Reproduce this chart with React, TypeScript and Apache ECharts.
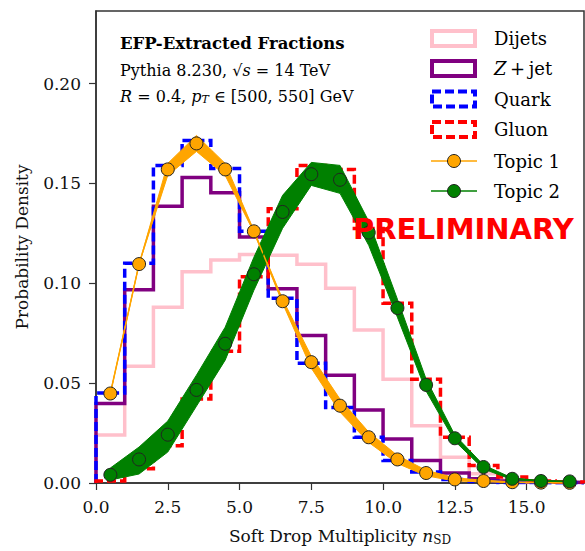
import React, { useEffect, useRef } from "react";
import * as echarts from "echarts";

// ---- data ----
const binEdges = [0, 1, 2, 3, 4, 5, 6, 7, 8, 9, 10, 11, 12, 13, 14, 15, 16, 17];
const binCenters = [0.5, 1.5, 2.5, 3.5, 4.5, 5.5, 6.5, 7.5, 8.5, 9.5, 10.5, 11.5, 12.5, 13.5, 14.5, 15.5, 16.5];

const dijets = [0.024, 0.0585, 0.088, 0.1058, 0.1116, 0.1144, 0.114, 0.1095, 0.0975, 0.0766, 0.0519, 0.0287, 0.0129, 0.0046, 0.0015, 0.0005, 0.0002];
const zjet = [0.0398, 0.0967, 0.1386, 0.153, 0.1453, 0.1232, 0.0972, 0.0738, 0.054, 0.0365, 0.022, 0.0113, 0.005, 0.0021, 0.001, 0.0006, 0.0003];
const quark = [0.045, 0.11, 0.159, 0.1715, 0.1575, 0.126, 0.0925, 0.06, 0.0378, 0.0229, 0.0113, 0.0055, 0.0017, 0.0008, 0.0003, 0.0001, 0.0001];
const gluon = [0.001, 0.0071, 0.0187, 0.042, 0.066, 0.1033, 0.1373, 0.1589, 0.157, 0.1274, 0.09, 0.0519, 0.0229, 0.0088, 0.003, 0.001, 0.0005];

const topic1 = [0.0448, 0.1096, 0.157, 0.17, 0.157, 0.126, 0.091, 0.0605, 0.0387, 0.0229, 0.0118, 0.005, 0.0018, 0.001, 0.0004, 0.0002, 0.0001];
const topic1Hi = [0.0448, 0.1096, 0.16, 0.174, 0.16, 0.1265, 0.092, 0.0635, 0.042, 0.0255, 0.0138, 0.0064, 0.0026, 0.0014, 0.0006, 0.0003, 0.0002];
const topic1Lo = [0.0448, 0.1096, 0.154, 0.166, 0.154, 0.1255, 0.09, 0.0575, 0.0355, 0.0203, 0.0098, 0.0036, 0.001, 0.0006, 0.0002, 0.0001, 0.0];

const topic2 = [0.0041, 0.0118, 0.0242, 0.0466, 0.0697, 0.1045, 0.1357, 0.1546, 0.1518, 0.1254, 0.0876, 0.0491, 0.0224, 0.008, 0.0021, 0.001, 0.0008];
const topic2Hi = [0.0075, 0.018, 0.031, 0.054, 0.078, 0.113, 0.144, 0.1605, 0.159, 0.131, 0.092, 0.052, 0.024, 0.009, 0.0025, 0.0012, 0.0009];
const topic2Lo = [0.0015, 0.0045, 0.0155, 0.0385, 0.0615, 0.0965, 0.1275, 0.149, 0.145, 0.119, 0.083, 0.046, 0.021, 0.007, 0.0017, 0.0008, 0.0007];

const xTicks = [0, 2.5, 5, 7.5, 10, 12.5, 15];
const yTicks = [0, 0.05, 0.1, 0.15, 0.2];

const SERIF = "DejaVu Serif";

function stepPoints(vals: number[]) {
  const pts: number[][] = [[binEdges[0], 0]];
  vals.forEach((v, i) => {
    pts.push([binEdges[i], v]);
    pts.push([binEdges[i + 1], v]);
  });
  pts.push([binEdges[binEdges.length - 1], 0]);
  return pts;
}

function band(lo: number[], hi: number[], color: string, z: number) {
  return {
    type: "custom",
    z,
    silent: true,
    data: [[0, 0]],
    renderItem: (_p: any, api: any) => {
      const top = binCenters.map((x, i) => api.coord([x, hi[i]]));
      const bot = binCenters.map((x, i) => api.coord([x, lo[i]])).reverse();
      return {
        type: "polygon",
        shape: { points: top.concat(bot) },
        style: { fill: color, stroke: color, lineWidth: 1 },
      };
    },
  };
}

function hist(name: string, vals: number[], color: string, dashed: boolean) {
  return {
    name,
    type: "line",
    z: 2,
    symbol: "none",
    silent: true,
    data: stepPoints(vals),
    lineStyle: { color, width: 3.5, type: dashed ? [9, 4] : "solid", join: "miter", cap: "butt" },
  };
}

function topic(name: string, vals: number[], color: string) {
  return {
    name,
    type: "line",
    z: 5,
    symbol: "circle",
    symbolSize: 13,
    data: binCenters.map((x, i) => [x, vals[i]]),
    lineStyle: { color, width: 1.5 },
    itemStyle: { color, borderColor: "#222", borderWidth: 1 },
  };
}

const legendItems = [
  { label: "Dijets", color: "pink", kind: "rect", dash: false, y: 38.5 },
  { label: "Z+jet", color: "purple", kind: "rect", dash: false, y: 68.5 },
  { label: "Quark", color: "blue", kind: "rect", dash: true, y: 99 },
  { label: "Gluon", color: "red", kind: "rect", dash: true, y: 129.5 },
  { label: "Topic 1", color: "orange", kind: "line", dash: false, y: 161 },
  { label: "Topic 2", color: "green", kind: "line", dash: false, y: 191 },
];

function font(size: number, opts: string = "") {
  return `${opts} ${size}px "${SERIF}"`.trim();
}

function txt(size: number, extra: any = {}) {
  return {
    font: font(size, [extra.fontStyle, extra.fontWeight].filter(Boolean).join(" ")),
    fontFamily: SERIF,
    fontSize: size,
    fill: "#000",
    ...extra,
  };
}

function legendGraphics() {
  const els: any[] = [];
  legendItems.forEach((it) => {
    if (it.kind === "rect") {
      els.push({
        type: "rect",
        z: 20,
        shape: { x: 432, y: it.y - 7.5, width: 43, height: 15 },
        style: { fill: "#fff", stroke: it.color, lineWidth: 4, lineDash: it.dash ? [9, 4] : null },
      });
    } else {
      els.push({
        type: "line",
        z: 20,
        shape: { x1: 431, y1: it.y, x2: 477, y2: it.y },
        style: { stroke: it.color, lineWidth: 1.5 },
      });
      els.push({
        type: "circle",
        z: 21,
        shape: { cx: 454, cy: it.y, r: 6.5 },
        style: { fill: it.color, stroke: "#222", lineWidth: 1 },
      });
    }
    const isZ = it.label === "Z+jet";
    els.push({
      type: "text",
      x: 494,
      y: it.y,
      z: 20,
      style: isZ
        ? {
            ...txt(18),
            text: "{i|Z}{r|\u2009+\u2009jet}",
            verticalAlign: "middle",
            rich: {
              i: txt(18, { fontStyle: "italic" }),
              r: txt(18),
            },
          }
        : { ...txt(18), text: it.label, verticalAlign: "middle" },
    });
  });
  return els;
}

export default function App() {
  const ref = useRef<HTMLDivElement>(null);
  useEffect(() => {
    if (!ref.current) return;
    const chart = echarts.init(ref.current, null, { renderer: "svg" });
    const option: any = {
      animation: false,
      backgroundColor: "#fff",
      grid: { left: 96, right: 1, top: 11, bottom: 65, show: true, borderColor: "#333", borderWidth: 1.5, backgroundColor: "transparent" },
      xAxis: {
        type: "value",
        min: 0,
        max: 17,
        splitLine: { show: false },
        axisLine: { show: true, onZero: false, lineStyle: { color: "#333", width: 1.5 } },
        axisTick: { show: true, length: 7, customValues: xTicks, lineStyle: { color: "#333", width: 1.2 } },
        axisLabel: {
          customValues: xTicks,
          formatter: (v: number) => v.toFixed(1),
          fontFamily: SERIF,
          fontSize: 17,
          color: "#111",
          margin: 15,
        },
        name: "{r|Soft Drop Multiplicity }{i|n}{s|SD}",
        nameLocation: "middle",
        nameGap: 43,
        nameTextStyle: {
          rich: {
            r: { fontFamily: SERIF, fontSize: 17, color: "#111" },
            i: { fontFamily: SERIF, fontSize: 17, fontStyle: "italic", color: "#111" },
            s: { fontFamily: SERIF, fontSize: 12, color: "#111", padding: [8, 0, 0, 0] },
          },
        },
      },
      yAxis: {
        type: "value",
        min: 0,
        max: 0.2363,
        splitLine: { show: false },
        axisLine: { show: true, lineStyle: { color: "#333", width: 1.5 } },
        axisTick: { show: true, length: 7, customValues: yTicks, lineStyle: { color: "#333", width: 1.2 } },
        axisLabel: {
          customValues: yTicks,
          formatter: (v: number) => v.toFixed(2),
          fontFamily: SERIF,
          fontSize: 17,
          color: "#111",
          margin: 15,
        },
        name: "Probability Density",
        nameLocation: "middle",
        nameRotate: 90,
        nameGap: 66,
        nameTextStyle: { fontFamily: SERIF, fontSize: 17, color: "#111" },
      },
      series: [
        hist("Dijets", dijets, "pink", false),
        hist("Z+jet", zjet, "purple", false),
        hist("Quark", quark, "blue", true),
        hist("Gluon", gluon, "red", true),
        band(topic1Lo, topic1Hi, "orange", 3),
        band(topic2Lo, topic2Hi, "green", 3),
        topic("Topic 1", topic1, "orange"),
        topic("Topic 2", topic2, "green"),
      ],
      graphic: [
        {
          type: "text",
          x: 120,
          y: 43,
          z: 20,
          style: { ...txt(16.5, { fontWeight: "bold" }), text: "EFP-Extracted Fractions", verticalAlign: "middle" },
        },
        {
          type: "text",
          x: 120,
          y: 70,
          z: 20,
          style: {
            ...txt(16),
            text: "{r|Pythia 8.230, √}{o|s}{r| = 14 TeV}",
            verticalAlign: "middle",
            rich: {
              r: txt(16),
              o: txt(16, { fontStyle: "italic" }),
            },
          },
        },
        {
          type: "text",
          x: 120,
          y: 96,
          z: 20,
          style: {
            ...txt(16),
            text: "{i|R}{r| = 0.4, }{i|p}{s|T}{r| ∈ [500, 550] GeV}",
            verticalAlign: "middle",
            rich: {
              r: txt(16),
              i: txt(16, { fontStyle: "italic" }),
              s: { ...txt(11, { fontStyle: "italic" }), padding: [7, 0, 0, 0] },
            },
          },
        },
        {
          type: "text",
          x: 353,
          y: 229,
          z: 30,
          style: { text: "PRELIMINARY", font: 'bold 29px "DejaVu Sans"', fontFamily: "DejaVu Sans", fontWeight: "bold", fontSize: 29, fill: "red", verticalAlign: "middle" },
        },
        ...legendGraphics(),
      ],
    };
    chart.setOption(option);
    return () => chart.dispose();
  }, []);
  return <div ref={ref} style={{ position: "absolute", left: 0, top: 0, width: 585, height: 551 }} />;
}
